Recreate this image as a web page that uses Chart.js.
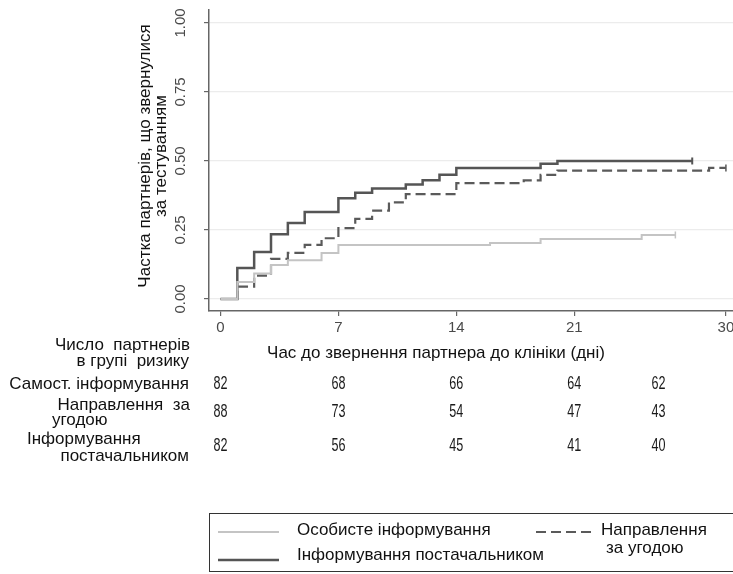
<!DOCTYPE html>
<html>
<head>
<meta charset="utf-8">
<script src="https://cdn.jsdelivr.net/npm/chart.js@4/dist/chart.umd.min.js"></script>
<style>
  html, body { margin: 0; padding: 0; background: #fff; }
  #wrap { position: relative; width: 733px; height: 574px; }
</style>
</head>
<body>
<div id="wrap"><canvas id="c" width="733" height="574"></canvas></div>
<script>
// Axis ticks
const dayTicks = [0, 7, 14, 21, 30];
const shareTicks = [0, 0.25, 0.5, 0.75, 1];
const shareTickLabels = ['0.00', '0.25', '0.50', '0.75', '1.00'];

// Cumulative share of partners tested: step times (days) and values after each step
const selfDays   = [0, 1, 2, 3, 4, 6, 7, 16, 19, 25, 27];
const selfShare  = [0, 0.062, 0.092, 0.123, 0.14, 0.167, 0.196, 0.203, 0.217, 0.232, 0.232];

const contractDays  = [0, 1, 2, 3, 4, 5, 6, 7, 8, 9, 10, 11, 14, 18, 19, 20, 29, 30];
const contractShare = [0, 0.045, 0.085, 0.145, 0.167, 0.196, 0.22, 0.257, 0.29, 0.32, 0.35, 0.38, 0.42, 0.43, 0.45, 0.465, 0.475, 0.475];

const providerDays  = [0, 1, 2, 3, 4, 5, 7, 8, 9, 11, 12, 13, 14, 19, 20, 28];
const providerShare = [0, 0.112, 0.17, 0.235, 0.275, 0.315, 0.365, 0.385, 0.40, 0.415, 0.43, 0.45, 0.475, 0.49, 0.50, 0.50];

// Number at risk
const riskDays     = [0, 7, 14, 21, 26];
const riskSelf     = [82, 68, 66, 64, 62];
const riskContract = [88, 73, 54, 47, 43];
const riskProvider = [82, 56, 45, 41, 40];

// Series labels
const labelSelf = 'Особисте інформування';
const labelContract = ['Направлення', 'за угодою'];
const labelProvider = 'Інформування постачальником';

const FONT = '"Liberation Sans", Arial, sans-serif';

function toPoints(days, vals) {
  return days.map((d, i) => ({ x: d, y: vals[i] }));
}

function censorRadius(len) {
  return c => (c.dataIndex === len - 1 ? 3.5 : 0);
}

// condensed digits for the at-risk table
function narrowText(ctx, text, x, y) {
  ctx.save();
  ctx.translate(x, y);
  ctx.scale(0.7, 1);
  ctx.fillText(text, 0, 0);
  ctx.restore();
}

const textPlugin = {
  id: 'stataText',
  afterDraw(chart) {
    const ctx = chart.ctx;
    const xs = chart.scales.x;
    const ys = chart.scales.y;
    ctx.save();

    // y tick labels, rotated
    ctx.fillStyle = '#4a4a4a';
    ctx.font = '15px ' + FONT;
    ctx.textAlign = 'center';
    ctx.textBaseline = 'middle';
    shareTicks.forEach((v, i) => {
      const y = ys.getPixelForValue(v);
      ctx.save();
      ctx.translate(181, y);
      ctx.rotate(-Math.PI / 2);
      ctx.fillText(shareTickLabels[i], 0, 0);
      ctx.restore();
    });

    // x tick labels
    dayTicks.forEach(v => {
      ctx.fillText(String(v), xs.getPixelForValue(v), 328);
    });

    // axis titles
    ctx.fillStyle = '#111';
    ctx.font = '17px ' + FONT;
    ctx.save();
    ctx.translate(145, 156);
    ctx.rotate(-Math.PI / 2);
    ctx.fillText('Частка партнерів, що звернулися', 0, 0);
    ctx.fillText('за тестуванням', 0, 16);
    ctx.restore();
    ctx.fillText('Час до звернення партнера до клініки (дні)', 436, 353);

    // number-at-risk table
    ctx.textAlign = 'right';
    ctx.fillText('Число  партнерів', 190, 345);
    ctx.fillText('в групі  ризику', 189, 361);
    ctx.fillText('Самост. інформування', 189, 384);
    ctx.fillText('Направлення  за', 190, 405);
    ctx.textAlign = 'left';
    ctx.fillText('угодою', 52, 420);
    ctx.fillText('Інформування', 27, 439);
    ctx.textAlign = 'right';
    ctx.fillText('постачальником', 189, 456);

    ctx.font = '18px ' + FONT;
    ctx.fillStyle = '#1a1a1a';
    ctx.textAlign = 'center';
    const rows = [[riskSelf, 384], [riskContract, 412], [riskProvider, 446]];
    rows.forEach(([vals, y]) => {
      vals.forEach((n, i) => {
        narrowText(ctx, String(n), xs.getPixelForValue(riskDays[i]), y);
      });
    });

    // legend box
    const ds = chart.data.datasets;
    ctx.strokeStyle = '#333';
    ctx.lineWidth = 1;
    ctx.strokeRect(209.5, 513.5, 540, 58);

    const sample = (d, x1, x2, y) => {
      ctx.save();
      ctx.strokeStyle = d.borderColor;
      ctx.lineWidth = d.borderWidth;
      ctx.setLineDash(d.borderDash || []);
      ctx.beginPath();
      ctx.moveTo(x1, y);
      ctx.lineTo(x2, y);
      ctx.stroke();
      ctx.restore();
    };
    sample(ds[0], 218, 279, 532);
    sample(ds[2], 218, 279, 560);
    sample(ds[1], 536, 596, 532);

    ctx.fillStyle = '#111';
    ctx.font = '17px ' + FONT;
    ctx.textAlign = 'left';
    ctx.fillText(ds[0].label, 297, 530);
    ctx.fillText(ds[2].label, 297, 555);
    ctx.fillText(ds[1].label[0], 601, 530);
    ctx.fillText(ds[1].label[1], 606, 548);

    ctx.restore();
  }
};

new Chart(document.getElementById('c'), {
  type: 'line',
  data: {
    datasets: [
      {
        label: labelSelf,
        data: toPoints(selfDays, selfShare),
        borderColor: '#c4c4c4',
        borderWidth: 2,
        stepped: true,
        pointStyle: 'line',
        rotation: 90,
        pointBorderColor: '#c4c4c4',
        pointBorderWidth: 1.5,
        pointRadius: censorRadius(selfDays.length)
      },
      {
        label: labelContract,
        data: toPoints(contractDays, contractShare),
        borderColor: '#5a5a5a',
        borderWidth: 2.2,
        borderDash: [10, 5],
        stepped: true,
        pointStyle: 'line',
        rotation: 90,
        pointBorderColor: '#5a5a5a',
        pointBorderWidth: 1.5,
        pointRadius: censorRadius(contractDays.length)
      },
      {
        label: labelProvider,
        data: toPoints(providerDays, providerShare),
        borderColor: '#555555',
        borderWidth: 2.5,
        stepped: true,
        pointStyle: 'line',
        rotation: 90,
        pointBorderColor: '#555555',
        pointBorderWidth: 2,
        pointRadius: censorRadius(providerDays.length)
      }
    ]
  },
  options: {
    responsive: false,
    animation: false,
    layout: { autoPadding: false, padding: { left: 203, right: 0, top: 10, bottom: 257 } },
    plugins: { legend: { display: false }, tooltip: { enabled: false } },
    scales: {
      x: {
        type: 'linear',
        min: -0.68,
        max: 30.42,
        afterBuildTicks: s => { s.ticks = dayTicks.map(v => ({ value: v })); },
        afterFit: s => { s.height = 6; },
        ticks: { display: false },
        grid: { drawOnChartArea: false, drawTicks: true, tickLength: 5, tickColor: '#666', lineWidth: 1.2 },
        border: { display: true, color: '#666', width: 1.5 }
      },
      y: {
        type: 'linear',
        min: -0.0435,
        max: 1.047,
        afterBuildTicks: s => { s.ticks = shareTicks.map(v => ({ value: v })); },
        afterFit: s => { s.width = 6; },
        ticks: { display: false },
        grid: { color: '#ececec', lineWidth: 1.2, drawTicks: true, tickLength: 5, tickColor: '#666' },
        border: { display: true, color: '#666', width: 1.5 }
      }
    }
  },
  plugins: [textPlugin]
});
</script>
</body>
</html>
